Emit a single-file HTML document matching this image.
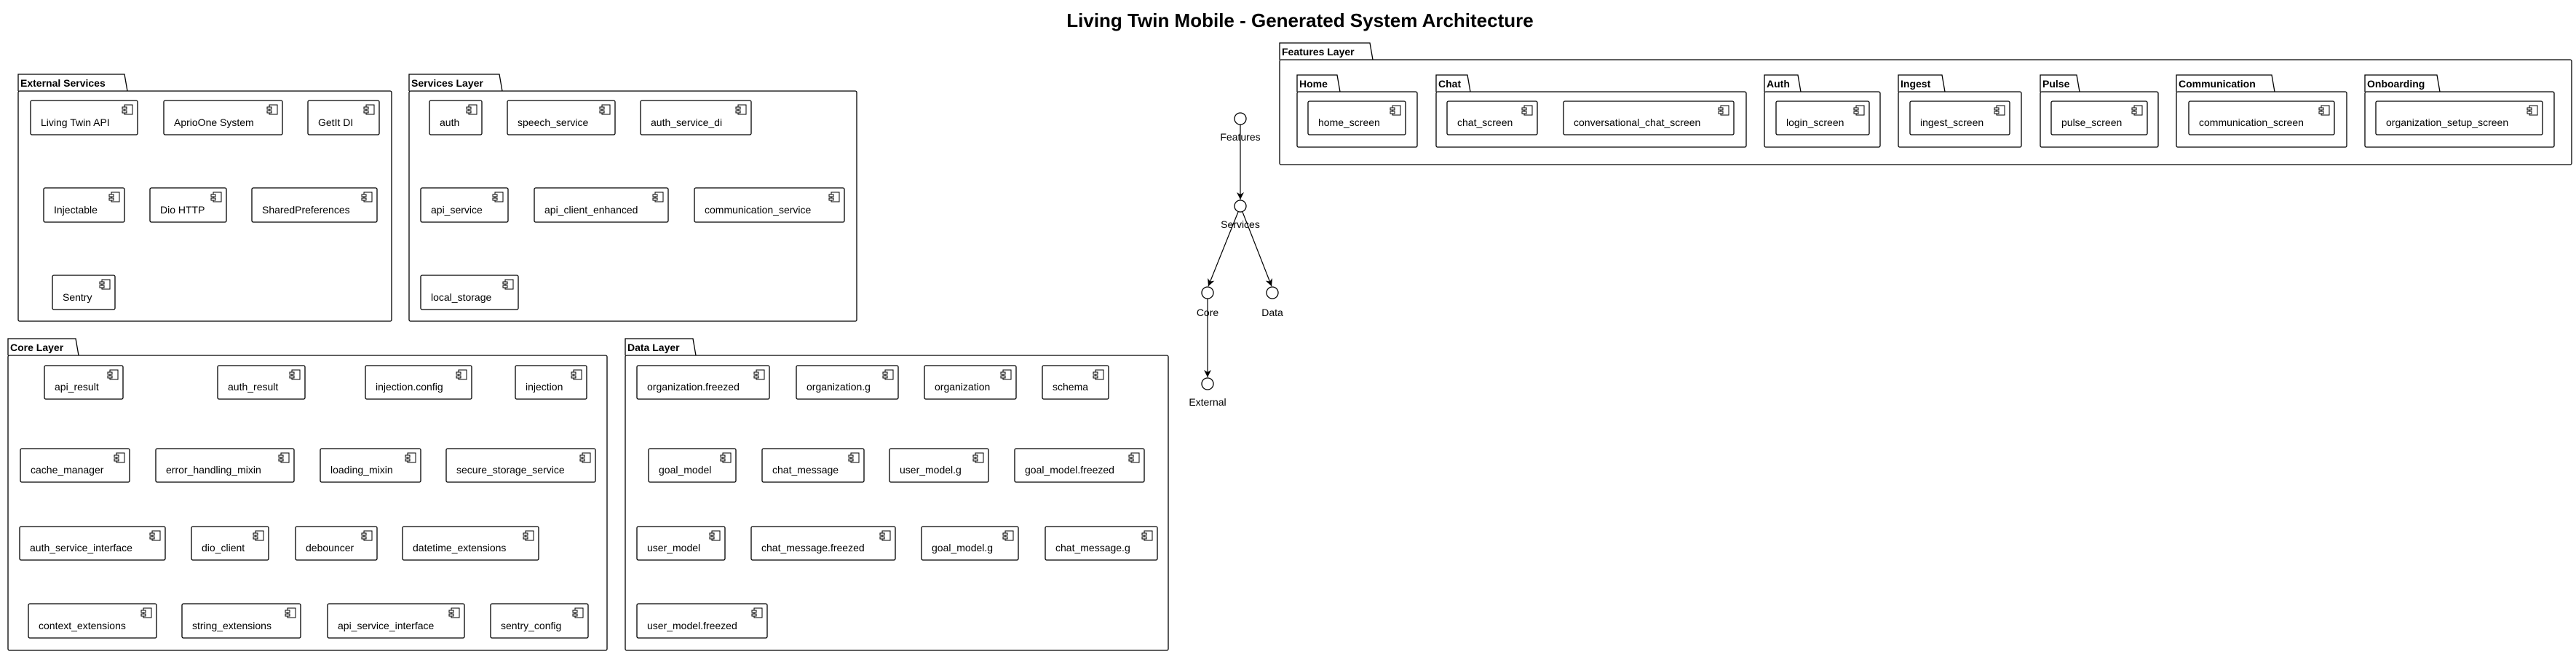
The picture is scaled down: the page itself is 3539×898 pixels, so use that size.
<!DOCTYPE html>
<html><head><meta charset="utf-8"><style>
html,body{margin:0;padding:0;background:#fff;}
svg{display:block;}
text{font-family:"Liberation Sans",sans-serif;fill:#000;}
.c{font-size:14px;}
.p{font-size:14px;font-weight:bold;}
.b{fill:#fff;stroke:#000;stroke-width:1.3;}
.l{stroke:#000;stroke-width:1.2;fill:none;}
</style></head><body>
<svg width="3539" height="898" viewBox="0 0 3539 898" xmlns="http://www.w3.org/2000/svg">
<defs>
<g id="ic"><rect x="0" y="0" width="11" height="13" fill="#fff" stroke="#000" stroke-width="1"/><rect x="-3" y="3" width="6" height="3" fill="#fff" stroke="#000" stroke-width="1"/><rect x="-3" y="8" width="6" height="3" fill="#fff" stroke="#000" stroke-width="1"/></g>
<marker id="ar" markerWidth="12" markerHeight="12" refX="10" refY="5" orient="auto" markerUnits="userSpaceOnUse"><path d="M0,0 L10,5 L0,10 L3,5 Z" fill="#000"/></marker>
</defs>
<text x="1786" y="37" text-anchor="middle" style="font-size:26px;font-weight:bold">Living Twin Mobile - Generated System Architecture</text>

<!-- External Services -->
<path class="b" d="M25,125 L25,102 L171,102 L175,125"/>
<rect class="b" x="25" y="125" width="513" height="316" rx="2"/>
<text class="p" x="28" y="119">External Services</text>
<g transform="translate(42,138)"><rect class="b" width="147" height="47" rx="2"/><use href="#ic" x="129" y="6"/><text class="c" x="14" y="35">Living Twin API</text></g>
<g transform="translate(225,138)"><rect class="b" width="163" height="47" rx="2"/><use href="#ic" x="145" y="6"/><text class="c" x="14" y="35">AprioOne System</text></g>
<g transform="translate(423,138)"><rect class="b" width="98" height="47" rx="2"/><use href="#ic" x="80" y="6"/><text class="c" x="14" y="35">GetIt DI</text></g>
<g transform="translate(60,258)"><rect class="b" width="111" height="47" rx="2"/><use href="#ic" x="93" y="6"/><text class="c" x="14" y="35">Injectable</text></g>
<g transform="translate(206,258)"><rect class="b" width="105" height="47" rx="2"/><use href="#ic" x="87" y="6"/><text class="c" x="14" y="35">Dio HTTP</text></g>
<g transform="translate(346,258)"><rect class="b" width="172" height="47" rx="2"/><use href="#ic" x="154" y="6"/><text class="c" x="14" y="35">SharedPreferences</text></g>
<g transform="translate(72,378)"><rect class="b" width="86" height="47" rx="2"/><use href="#ic" x="68" y="6"/><text class="c" x="14" y="35">Sentry</text></g>

<!-- Services Layer -->
<path class="b" d="M562,125 L562,102 L686,102 L690,125"/>
<rect class="b" x="562" y="125" width="615" height="316" rx="2"/>
<text class="p" x="565" y="119">Services Layer</text>
<g transform="translate(590,138)"><rect class="b" width="72" height="47" rx="2"/><use href="#ic" x="54" y="6"/><text class="c" x="14" y="35">auth</text></g>
<g transform="translate(697,138)"><rect class="b" width="148" height="47" rx="2"/><use href="#ic" x="130" y="6"/><text class="c" x="14" y="35">speech_service</text></g>
<g transform="translate(880,138)"><rect class="b" width="152" height="47" rx="2"/><use href="#ic" x="134" y="6"/><text class="c" x="14" y="35">auth_service_di</text></g>
<g transform="translate(578,258)"><rect class="b" width="120" height="47" rx="2"/><use href="#ic" x="102" y="6"/><text class="c" x="14" y="35">api_service</text></g>
<g transform="translate(734,258)"><rect class="b" width="184" height="47" rx="2"/><use href="#ic" x="166" y="6"/><text class="c" x="14" y="35">api_client_enhanced</text></g>
<g transform="translate(954,258)"><rect class="b" width="206" height="47" rx="2"/><use href="#ic" x="188" y="6"/><text class="c" x="14" y="35">communication_service</text></g>
<g transform="translate(578,378)"><rect class="b" width="134" height="47" rx="2"/><use href="#ic" x="116" y="6"/><text class="c" x="14" y="35">local_storage</text></g>

<!-- Core Layer -->
<path class="b" d="M11,488 L11,465 L104,465 L108,488"/>
<rect class="b" x="11" y="488" width="823" height="405" rx="2"/>
<text class="p" x="14" y="482">Core Layer</text>
<g transform="translate(61,502)"><rect class="b" width="108" height="46" rx="2"/><use href="#ic" x="90" y="6"/><text class="c" x="14" y="34">api_result</text></g>
<g transform="translate(299,502)"><rect class="b" width="120" height="46" rx="2"/><use href="#ic" x="102" y="6"/><text class="c" x="14" y="34">auth_result</text></g>
<g transform="translate(502,502)"><rect class="b" width="146" height="46" rx="2"/><use href="#ic" x="128" y="6"/><text class="c" x="14" y="34">injection.config</text></g>
<g transform="translate(708,502)"><rect class="b" width="98" height="46" rx="2"/><use href="#ic" x="80" y="6"/><text class="c" x="14" y="34">injection</text></g>
<g transform="translate(28,616)"><rect class="b" width="150" height="46" rx="2"/><use href="#ic" x="132" y="6"/><text class="c" x="14" y="34">cache_manager</text></g>
<g transform="translate(214,616)"><rect class="b" width="190" height="46" rx="2"/><use href="#ic" x="172" y="6"/><text class="c" x="14" y="34">error_handling_mixin</text></g>
<g transform="translate(440,616)"><rect class="b" width="138" height="46" rx="2"/><use href="#ic" x="120" y="6"/><text class="c" x="14" y="34">loading_mixin</text></g>
<g transform="translate(613,616)"><rect class="b" width="205" height="46" rx="2"/><use href="#ic" x="187" y="6"/><text class="c" x="14" y="34">secure_storage_service</text></g>
<g transform="translate(27,723)"><rect class="b" width="200" height="46" rx="2"/><use href="#ic" x="182" y="6"/><text class="c" x="14" y="34">auth_service_interface</text></g>
<g transform="translate(263,723)"><rect class="b" width="106" height="46" rx="2"/><use href="#ic" x="88" y="6"/><text class="c" x="14" y="34">dio_client</text></g>
<g transform="translate(406,723)"><rect class="b" width="112" height="46" rx="2"/><use href="#ic" x="94" y="6"/><text class="c" x="14" y="34">debouncer</text></g>
<g transform="translate(553,723)"><rect class="b" width="187" height="46" rx="2"/><use href="#ic" x="169" y="6"/><text class="c" x="14" y="34">datetime_extensions</text></g>
<g transform="translate(39,829)"><rect class="b" width="176" height="47" rx="2"/><use href="#ic" x="158" y="6"/><text class="c" x="14" y="35">context_extensions</text></g>
<g transform="translate(250,829)"><rect class="b" width="163" height="47" rx="2"/><use href="#ic" x="145" y="6"/><text class="c" x="14" y="35">string_extensions</text></g>
<g transform="translate(450,829)"><rect class="b" width="188" height="47" rx="2"/><use href="#ic" x="170" y="6"/><text class="c" x="14" y="35">api_service_interface</text></g>
<g transform="translate(674,829)"><rect class="b" width="134" height="47" rx="2"/><use href="#ic" x="116" y="6"/><text class="c" x="14" y="35">sentry_config</text></g>

<!-- Data Layer -->
<path class="b" d="M859,488 L859,465 L952,465 L956,488"/>
<rect class="b" x="859" y="488" width="746" height="405" rx="2"/>
<text class="p" x="862" y="482">Data Layer</text>
<g transform="translate(875,502)"><rect class="b" width="182" height="46" rx="2"/><use href="#ic" x="164" y="6"/><text class="c" x="14" y="34">organization.freezed</text></g>
<g transform="translate(1094,502)"><rect class="b" width="140" height="46" rx="2"/><use href="#ic" x="122" y="6"/><text class="c" x="14" y="34">organization.g</text></g>
<g transform="translate(1270,502)"><rect class="b" width="126" height="46" rx="2"/><use href="#ic" x="108" y="6"/><text class="c" x="14" y="34">organization</text></g>
<g transform="translate(1432,502)"><rect class="b" width="91" height="46" rx="2"/><use href="#ic" x="73" y="6"/><text class="c" x="14" y="34">schema</text></g>
<g transform="translate(891,616)"><rect class="b" width="120" height="46" rx="2"/><use href="#ic" x="102" y="6"/><text class="c" x="14" y="34">goal_model</text></g>
<g transform="translate(1047,616)"><rect class="b" width="140" height="46" rx="2"/><use href="#ic" x="122" y="6"/><text class="c" x="14" y="34">chat_message</text></g>
<g transform="translate(1222,616)"><rect class="b" width="136" height="46" rx="2"/><use href="#ic" x="118" y="6"/><text class="c" x="14" y="34">user_model.g</text></g>
<g transform="translate(1394,616)"><rect class="b" width="178" height="46" rx="2"/><use href="#ic" x="160" y="6"/><text class="c" x="14" y="34">goal_model.freezed</text></g>
<g transform="translate(875,723)"><rect class="b" width="121" height="46" rx="2"/><use href="#ic" x="103" y="6"/><text class="c" x="14" y="34">user_model</text></g>
<g transform="translate(1032,723)"><rect class="b" width="198" height="46" rx="2"/><use href="#ic" x="180" y="6"/><text class="c" x="14" y="34">chat_message.freezed</text></g>
<g transform="translate(1266,723)"><rect class="b" width="133" height="46" rx="2"/><use href="#ic" x="115" y="6"/><text class="c" x="14" y="34">goal_model.g</text></g>
<g transform="translate(1436,723)"><rect class="b" width="154" height="46" rx="2"/><use href="#ic" x="136" y="6"/><text class="c" x="14" y="34">chat_message.g</text></g>
<g transform="translate(875,829)"><rect class="b" width="179" height="47" rx="2"/><use href="#ic" x="161" y="6"/><text class="c" x="14" y="35">user_model.freezed</text></g>

<!-- Features Layer -->
<path class="b" d="M1758,82 L1758,59 L1882,59 L1886,82"/>
<rect class="b" x="1758" y="82" width="1775" height="144" rx="2"/>
<text class="p" x="1761" y="76">Features Layer</text>

<path class="b" d="M1782,126 L1782,103 L1837,103 L1841,126"/><rect class="b" x="1782" y="126" width="165" height="76" rx="2"/><text class="p" x="1785" y="120">Home</text>
<path class="b" d="M1973,126 L1973,103 L2016,103 L2020,126"/><rect class="b" x="1973" y="126" width="426" height="76" rx="2"/><text class="p" x="1976" y="120">Chat</text>
<path class="b" d="M2424,126 L2424,103 L2470,103 L2474,126"/><rect class="b" x="2424" y="126" width="159" height="76" rx="2"/><text class="p" x="2427" y="120">Auth</text>
<path class="b" d="M2608,126 L2608,103 L2668,103 L2672,126"/><rect class="b" x="2608" y="126" width="169" height="76" rx="2"/><text class="p" x="2611" y="120">Ingest</text>
<path class="b" d="M2803,126 L2803,103 L2853,103 L2857,126"/><rect class="b" x="2803" y="126" width="162" height="76" rx="2"/><text class="p" x="2806" y="120">Pulse</text>
<path class="b" d="M2990,126 L2990,103 L3121,103 L3125,126"/><rect class="b" x="2990" y="126" width="234" height="76" rx="2"/><text class="p" x="2993" y="120">Communication</text>
<path class="b" d="M3249,126 L3249,103 L3348,103 L3352,126"/><rect class="b" x="3249" y="126" width="260" height="76" rx="2"/><text class="p" x="3252" y="120">Onboarding</text>

<g transform="translate(1797,139)"><rect class="b" width="134" height="46" rx="2"/><use href="#ic" x="116" y="6"/><text class="c" x="14" y="34">home_screen</text></g>
<g transform="translate(1988,139)"><rect class="b" width="124" height="46" rx="2"/><use href="#ic" x="106" y="6"/><text class="c" x="14" y="34">chat_screen</text></g>
<g transform="translate(2148,139)"><rect class="b" width="234" height="46" rx="2"/><use href="#ic" x="216" y="6"/><text class="c" x="14" y="34">conversational_chat_screen</text></g>
<g transform="translate(2440,139)"><rect class="b" width="128" height="46" rx="2"/><use href="#ic" x="110" y="6"/><text class="c" x="14" y="34">login_screen</text></g>
<g transform="translate(2624,139)"><rect class="b" width="137" height="46" rx="2"/><use href="#ic" x="119" y="6"/><text class="c" x="14" y="34">ingest_screen</text></g>
<g transform="translate(2818,139)"><rect class="b" width="132" height="46" rx="2"/><use href="#ic" x="114" y="6"/><text class="c" x="14" y="34">pulse_screen</text></g>
<g transform="translate(3007,139)"><rect class="b" width="200" height="46" rx="2"/><use href="#ic" x="182" y="6"/><text class="c" x="14" y="34">communication_screen</text></g>
<g transform="translate(3264,139)"><rect class="b" width="229" height="46" rx="2"/><use href="#ic" x="211" y="6"/><text class="c" x="14" y="34">organization_setup_screen</text></g>

<!-- interfaces -->
<line class="l" x1="1704" y1="171" x2="1704" y2="274" marker-end="url(#ar)"/>
<line class="l" x1="1701" y1="291" x2="1660" y2="393" marker-end="url(#ar)"/>
<line class="l" x1="1707" y1="291" x2="1747" y2="393" marker-end="url(#ar)"/>
<line class="l" x1="1659" y1="410" x2="1659" y2="518" marker-end="url(#ar)"/>
<circle class="b" cx="1704" cy="163" r="8"/>
<circle class="b" cx="1704" cy="283" r="8"/>
<circle class="b" cx="1659" cy="402" r="8"/>
<circle class="b" cx="1748" cy="402" r="8"/>
<circle class="b" cx="1659" cy="527" r="8"/>
<text class="c" x="1704" y="193" text-anchor="middle">Features</text>
<text class="c" x="1704" y="313" text-anchor="middle">Services</text>
<text class="c" x="1659" y="434" text-anchor="middle">Core</text>
<text class="c" x="1748" y="434" text-anchor="middle">Data</text>
<text class="c" x="1659" y="557" text-anchor="middle">External</text>
</svg>
</body></html>
